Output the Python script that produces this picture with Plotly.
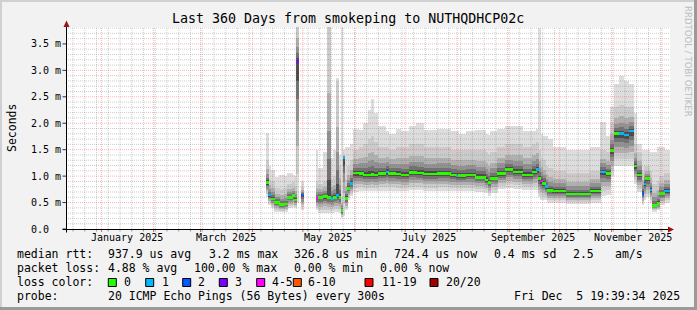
import numpy as np
import pandas as pd
import plotly.graph_objects as go

# ---------------- data ----------------
START = "2024-12-10 19:39:34"
END = "2025-12-05 19:39:34"

# each entry starts a step that lasts until the next start (None = no data)
seg_start = [
    "2025-04-09 08:00", "2025-04-10 13:00", "2025-04-11 18:00", "2025-04-14 03:00",
    "2025-04-17 02:00", "2025-04-20 02:00", "2025-04-21 20:00", "2025-04-24 20:00",
    "2025-04-26 08:00", "2025-04-27 05:00", "2025-04-28 17:00", "2025-04-29 22:00",
    "2025-05-01 10:00", "2025-05-08 21:00", "2025-05-10 00:00", "2025-05-12 18:00",
    "2025-05-15 17:00", "2025-05-17 19:00", "2025-05-19 07:00", "2025-05-21 00:00",
    "2025-05-22 14:00", "2025-05-23 18:00", "2025-05-25 00:00", "2025-05-26 04:00",
    "2025-05-27 15:00", "2025-05-29 03:00", "2025-05-30 15:00", "2025-06-03 05:00",
    "2025-06-06 04:00", "2025-06-08 14:00", "2025-06-10 09:00", "2025-06-12 03:00",
    "2025-06-14 13:00", "2025-06-19 07:00", "2025-06-21 00:00", "2025-06-25 06:00",
    "2025-06-28 06:00", "2025-07-03 00:00", "2025-07-07 18:00", "2025-07-11 22:00",
    "2025-07-20 06:00", "2025-07-28 00:00", "2025-07-31 14:00", "2025-08-01 18:00",
    "2025-08-06 00:00", "2025-08-11 22:00", "2025-08-17 21:00", "2025-08-19 09:00",
    "2025-08-20 20:00", "2025-08-25 00:00", "2025-08-29 19:00", "2025-09-03 00:00",
    "2025-09-08 22:00", "2025-09-14 21:00", "2025-09-17 06:00", "2025-09-18 11:00",
    "2025-09-19 16:00", "2025-09-20 20:00", "2025-09-22 15:00", "2025-09-23 20:00",
    "2025-09-26 19:00", "2025-10-04 14:00", "2025-10-19 11:00", "2025-10-25 10:00",
    "2025-10-28 10:00", "2025-10-31 09:00", "2025-11-02 05:00", "2025-11-05 04:00",
    "2025-11-08 04:00", "2025-11-11 03:00", "2025-11-14 03:00", "2025-11-15 22:00",
    "2025-11-18 21:00", "2025-11-20 02:00", "2025-11-21 06:00", "2025-11-23 16:00",
    "2025-11-24 20:00", "2025-11-27 20:00", "2025-11-29 14:00", "2025-12-02 13:00",
]
median_ms = [
    0.88, 0.64, 0.57, 0.50, 0.46, 0.47, 0.60, 0.63, 0.55, 3.17, None, 0.64,
    None, 0.58, 0.60, 0.62, 0.60, 0.58, 0.60, 0.63, 0.60, 0.35, 1.35, 0.58,
    0.77, 0.86, 1.06, 1.05, 1.02, 1.02, 1.03, 1.02, 1.05, 1.08, 1.05, 1.04,
    1.02, 1.07, 1.06, 1.04, 1.05, 1.02, 1.00, 1.01, 1.02, 0.98, 0.93, 0.88,
    0.96, 1.05, 1.12, 1.08, 1.02, 1.08, 1.12, 0.95, 0.91, 0.86, 0.80, 0.73,
    0.72, 0.66, 0.72, 1.08, 1.05, 1.49, 1.80, 1.80, 1.78, 1.85, 1.19, 1.02,
    0.67, 0.85, 0.95, 0.74, 0.44, 0.48, 0.67, 0.72,
]
loss_bucket = [
    0, 1, 0, 0, 0, 0, 0, 0, 0, 3, None, 2,
    None, 4, 0, 0, 0, 1, 0, 1, 0, 0, 1, 0,
    0, 1, 0, 0, 0, 0, 0, 0, 0, 1, 0, 0,
    0, 0, 0, 0, 0, 0, 1, 0, 0, 0, 0, 0,
    0, 0, 0, 0, 0, 0, 1, 0, 4, 0, 1, 0,
    0, 0, 0, 1, 0, 0, 0, 1, 1, 1, 0, 0,
    2, 1, 0, 1, 0, 0, 0, 1,
]
smoke_lo = [
    0.60, 0.45, 0.40, 0.33, 0.32, 0.33, 0.40, 0.42, 0.40, 0.50, None, 0.35,
    None, 0.35, 0.30, 0.30, 0.30, 0.30, 0.32, 0.32, 0.30, 0.20, 0.25, 0.35,
    0.55, 0.62, 0.70, 0.72, 0.72, 0.72, 0.72, 0.72, 0.72, 0.72, 0.72, 0.72,
    0.72, 0.73, 0.73, 0.72, 0.72, 0.72, 0.72, 0.72, 0.72, 0.70, 0.68, 0.62,
    0.68, 0.75, 0.78, 0.76, 0.74, 0.74, 0.74, 0.60, 0.55, 0.55, 0.55, 0.50,
    0.50, 0.48, 0.50, 0.62, 0.65, 1.00, 1.20, 1.20, 1.20, 1.20, 0.85, 0.70,
    0.45, 0.55, 0.60, 0.50, 0.33, 0.35, 0.45, 0.50,
]
smoke_up = [
    1.30, 0.95, 0.90, 0.78, 0.75, 0.78, 0.85, 0.88, 0.82, 3.90, None, 0.80,
    None, 0.90, 0.85, 0.90, 3.90, 0.95, 1.00, 2.80, 1.20, 0.60, 1.40, 0.95,
    1.20, 1.30, 1.50, 1.55, 1.60, 1.70, 1.75, 1.65, 1.55, 1.55, 1.50, 1.55,
    1.55, 1.60, 1.60, 1.55, 1.55, 1.50, 1.50, 1.50, 1.50, 1.50, 1.45, 1.40,
    1.45, 1.55, 1.60, 1.60, 1.55, 1.60, 1.65, 1.50, 1.35, 1.30, 1.20, 1.15,
    1.10, 1.05, 1.10, 1.50, 1.45, 2.00, 2.30, 2.35, 2.30, 2.30, 1.60, 1.45,
    1.10, 1.20, 1.20, 1.10, 0.85, 0.90, 1.00, 1.05,
]
smoke_hi = [
    1.82, 1.20, 1.12, 0.98, 1.02, 1.00, 1.05, 1.02, 1.00, 3.90, None, 0.90,
    None, 1.50, 1.15, 1.45, 3.90, 1.35, 1.50, 2.85, 1.40, 3.90, 1.50, 1.55,
    1.55, 1.60, 1.90, 1.87, 2.00, 2.25, 2.45, 2.20, 1.95, 1.85, 1.80, 1.90,
    1.85, 1.95, 2.00, 1.88, 1.90, 1.85, 1.85, 1.80, 1.85, 1.88, 1.80, 1.78,
    1.85, 1.90, 1.95, 1.95, 1.85, 1.85, 1.90, 3.80, 1.80, 1.75, 1.75, 1.70,
    1.55, 1.50, 1.55, 2.03, 1.75, 2.30, 2.75, 2.90, 2.80, 2.75, 2.20, 1.60,
    1.50, 1.50, 1.50, 1.45, 1.45, 1.55, 1.55, 1.50,
]

loss_labels = ["0", "1", "2", "3", "4-5", "6-10", "11-19", "20/20"]
loss_colors = ["#26ff00", "#00b8ff", "#0059ff", "#7e00ff",
               "#ff00ff", "#ff5500", "#ff0000", "#a10000"]

y_tick_vals = [0.0, 0.5, 1.0, 1.5, 2.0, 2.5, 3.0, 3.5]
y_tick_text = ["0.0  ", "0.5 m", "1.0 m", "1.5 m", "2.0 m", "2.5 m", "3.0 m", "3.5 m"]
x_label_dates = ["2025-01-16", "2025-03-16", "2025-05-16",
                 "2025-07-15", "2025-09-15", "2025-11-14"]
x_label_text = ["January 2025", "March 2025", "May 2025",
                "July 2025", "September 2025", "November 2025"]

title_text = "Last 360 Days from smokeping to NUTHQDHCP02c"
legend_rows = [
    [("median rtt:", 16), ("937.9 us avg", 107.3), ("3.2 ms max", 208.3),
     ("326.8 us min", 293.3), ("724.4 us now", 393.3), ("0.4 ms sd", 493.3),
     ("2.5", 572.3), ("am/s", 614)],
    [("packet loss:", 16), ("4.88 % avg", 107.3), ("100.00 % max", 193.3),
     ("0.00 % min", 293.3), ("0.00 % now", 379.3)],
    [("loss color:", 16)],
    [("probe:", 16), ("20 ICMP Echo Pings (56 Bytes) every 300s", 107.3),
     ("Fri Dec  5 19:39:34 2025", 513.3)],
]
legend_row_y = [254.3, 268.3, 282.3, 296.2]
swatch_x = [108.3, 145.7, 182.7, 219.3, 256.7, 293.3, 365.0, 430.0]
swatch_label_x = [123.3, 160.7, 197.3, 234.3, 270.7, 307.3, 380.7, 445.3]

# ---------------- layout geometry (pixels) ----------------
W, H = 697, 310
L, R, T, B = 66, 670, 27, 229
YMAX = 3.82
FONT = "DejaVu Sans Mono"


def pxx(px):
    return (px - L) / (R - L)


def pxy(py):
    return (B - py) / (B - T)


def nb(s):
    return s.replace(" ", "\u00a0")


# ---------------- build step bars ----------------
starts = pd.to_datetime(seg_start)
ends = list(starts[1:]) + [pd.Timestamp(END)]
rows = []
for i, s in enumerate(starts):
    if median_ms[i] is None:
        continue
    e = ends[i]
    dur = e - s
    rows.append(dict(x=s + dur / 2, w=dur.total_seconds() * 1000 + 2 * 3600 * 1000,
                     m=median_ms[i], lc=loss_bucket[i], lo=smoke_lo[i],
                     up=smoke_up[i], hi=smoke_hi[i]))
df = pd.DataFrame(rows)

fig = go.Figure()

bands = [  # (fraction toward lo, fraction toward up, colour)
    (0.80, 1.00, "#cbcbcb"),
    (0.60, 0.60, "#b0b0b0"),
    (0.42, 0.38, "#929292"),
    (0.27, 0.22, "#727272"),
    (0.14, 0.10, "#4a4a4a"),
]
# outer light smoke
fig.add_trace(go.Bar(x=df.x, base=df.lo, y=df.hi - df.lo, width=df.w,
                     marker=dict(color="#dddddd", line=dict(width=0)),
                     hoverinfo="skip", showlegend=False))
for f, g, col in bands:
    lower = df.m - f * (df.m - df.lo)
    upper = df.m + g * (df.up - df.m)
    fig.add_trace(go.Bar(x=df.x, base=lower, y=upper - lower, width=df.w,
                         marker=dict(color=col, line=dict(width=0)),
                         hoverinfo="skip", showlegend=False))
# median, coloured by loss
fig.add_trace(go.Bar(x=df.x, base=df.m - 0.025, y=[0.05] * len(df), width=df.w,
                     marker=dict(color=[loss_colors[int(c)] for c in df.lc], line=dict(width=0)),
                     hoverinfo="skip", showlegend=False))

shapes = []
# grid (drawn above the smoke, like rrdtool)
minor_col = "rgba(120,120,120,0.38)"
major_col = "rgba(255,60,60,0.38)"
for k in range(1, int(YMAX * 10) + 1):
    v = k / 10
    if k % 5 == 0:
        continue
    shapes.append(dict(type="line", xref="paper", yref="y", x0=0, x1=1, y0=v, y1=v,
                       line=dict(color=minor_col, width=1, dash="1px,1px"), layer="above"))
for d in pd.date_range("2024-12-15", END, freq="7D"):
    shapes.append(dict(type="line", xref="x", yref="paper", x0=d, x1=d, y0=0, y1=1,
                       line=dict(color=minor_col, width=1, dash="1px,1px"), layer="above"))
    shapes.append(dict(type="line", xref="x", yref="paper", x0=d, x1=d,
                       y0=pxy(229), y1=pxy(231.5),
                       line=dict(color="#999999", width=1), layer="above"))
for v in y_tick_vals[1:]:
    shapes.append(dict(type="line", xref="paper", yref="y", x0=0, x1=1, y0=v, y1=v,
                       line=dict(color=major_col, width=1, dash="1px,1px"), layer="above"))
for d in pd.date_range("2025-01-01", END, freq="MS"):
    shapes.append(dict(type="line", xref="x", yref="paper", x0=d, x1=d, y0=0, y1=1,
                       line=dict(color=major_col, width=1, dash="1px,1px"), layer="above"))
    shapes.append(dict(type="line", xref="x", yref="paper", x0=d, x1=d,
                       y0=pxy(229), y1=pxy(232),
                       line=dict(color="#e06060", width=1), layer="above"))
for v in y_tick_vals:
    shapes.append(dict(type="line", xref="paper", yref="y", x0=pxx(62.5), x1=pxx(66.5),
                       y0=v, y1=v, line=dict(color="#333333", width=1), layer="above"))

# axes lines and arrows
shapes.append(dict(type="line", xref="paper", yref="paper", x0=pxx(66.5), x1=pxx(66.5),
                   y0=pxy(232.5), y1=pxy(24), line=dict(color="#000000", width=1), layer="above"))
shapes.append(dict(type="line", xref="paper", yref="paper", x0=pxx(62.5), x1=pxx(669),
                   y0=pxy(229.5), y1=pxy(229.5), line=dict(color="#000000", width=1), layer="above"))
shapes.append(dict(type="path", xref="paper", yref="paper", layer="above",
                   path=f"M {pxx(66.5)},{pxy(20.5)} L {pxx(63.5)},{pxy(27)} L {pxx(69.5)},{pxy(27)} Z",
                   fillcolor="#a01010", line=dict(width=0)))
shapes.append(dict(type="path", xref="paper", yref="paper", layer="above",
                   path=f"M {pxx(674)},{pxy(229.5)} L {pxx(668)},{pxy(226.5)} L {pxx(668)},{pxy(232.5)} Z",
                   fillcolor="#a01010", line=dict(width=0)))

# 3d frame of the image
shapes.append(dict(type="rect", xref="paper", yref="paper", x0=pxx(0), x1=pxx(W),
                   y0=pxy(0), y1=pxy(2), fillcolor="#d0d0d0", line=dict(width=0), layer="above"))
shapes.append(dict(type="rect", xref="paper", yref="paper", x0=pxx(0), x1=pxx(2),
                   y0=pxy(0), y1=pxy(H), fillcolor="#d0d0d0", line=dict(width=0), layer="above"))
shapes.append(dict(type="rect", xref="paper", yref="paper", x0=pxx(0), x1=pxx(W),
                   y0=pxy(H - 3), y1=pxy(H), fillcolor="#9a9a9a", line=dict(width=0), layer="above"))
shapes.append(dict(type="rect", xref="paper", yref="paper", x0=pxx(W - 3), x1=pxx(W),
                   y0=pxy(0), y1=pxy(H), fillcolor="#9a9a9a", line=dict(width=0), layer="above"))

# legend swatches
for i, sx in enumerate(swatch_x):
    shapes.append(dict(type="rect", xref="paper", yref="paper",
                       x0=pxx(sx), x1=pxx(sx + 8), y0=pxy(278.5), y1=pxy(286.5),
                       fillcolor=loss_colors[i], line=dict(color="#000000", width=1), layer="above"))

ann = []


def text(px, py, s, size, xanchor="left", color="#000000", angle=0, family=FONT):
    ann.append(dict(x=pxx(px), y=pxy(py), xref="paper", yref="paper", text=nb(s),
                    showarrow=False, xanchor=xanchor, yanchor="middle", textangle=angle,
                    font=dict(family=family, size=size, color=color), borderpad=0))


text(347.8, 19, title_text, 13.3, xanchor="center")
text(12, 128, "Seconds", 11.5, xanchor="center", angle=-90)
text(688, 61, "RRDTOOL / TOBI OETIKER", 8.6, xanchor="center", color="#bdbdbd",
     angle=90, family="DejaVu Sans")
for v, s in zip(y_tick_vals, y_tick_text):
    ann.append(dict(x=pxx(30), y=v, xref="paper", yref="y", text=nb(s), showarrow=False,
                    xanchor="left", yanchor="middle", borderpad=0,
                    font=dict(family=FONT, size=10, color="#000000")))
for d, s in zip(x_label_dates, x_label_text):
    ann.append(dict(x=d, y=pxy(237.8), xref="x", yref="paper", text=nb(s), showarrow=False,
                    xanchor="center", yanchor="middle", borderpad=0,
                    font=dict(family=FONT, size=10, color="#000000")))
for row, ry in zip(legend_rows, legend_row_y):
    for s, px in row:
        text(px, ry, s, 11.5)
for lab, lx in zip(loss_labels, swatch_label_x):
    text(lx, legend_row_y[2], lab, 11.5)

fig.update_layout(
    width=W, height=H, autosize=False,
    margin=dict(l=L, r=W - R, t=T, b=H - B, pad=0),
    paper_bgcolor="#f2f2f2", plot_bgcolor="#ffffff",
    barmode="overlay", bargap=0,
    xaxis=dict(type="date", range=[START, END], showgrid=False, zeroline=False,
               showticklabels=False, ticks="", showline=False, fixedrange=True),
    yaxis=dict(range=[0, YMAX], showgrid=False, zeroline=False, showticklabels=False,
               ticks="", showline=False, fixedrange=True),
    shapes=shapes, annotations=ann, showlegend=False,
)

fig.write_html("out.html", config=dict(displayModeBar=False))
